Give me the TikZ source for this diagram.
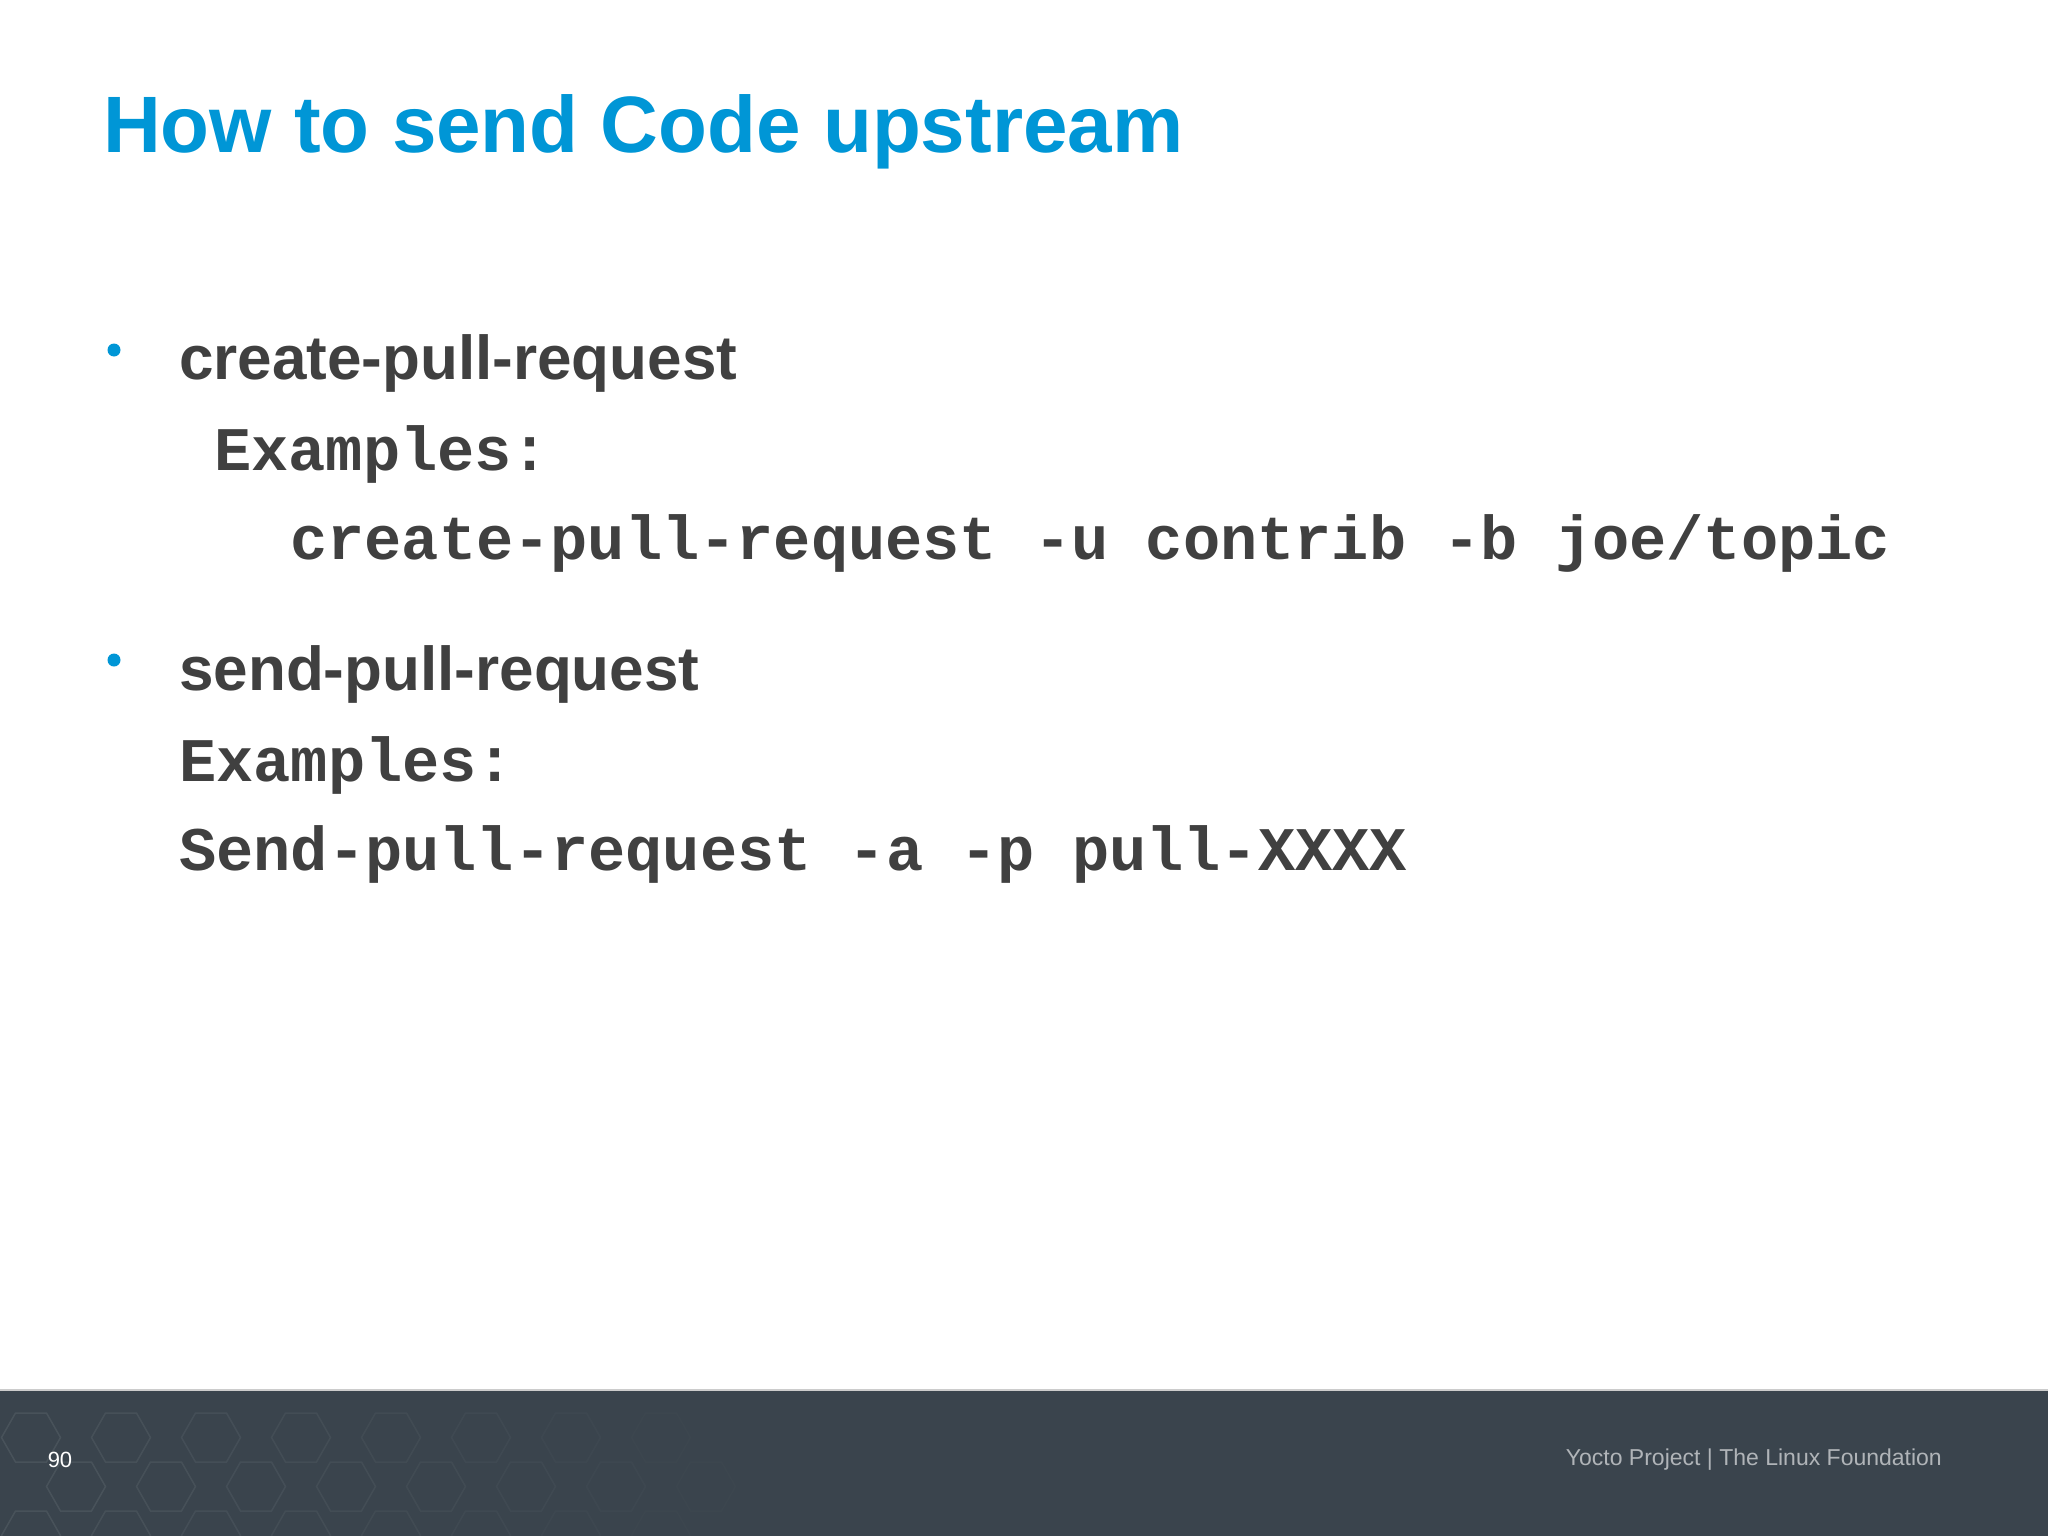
\documentclass[tikz,border=0pt]{standalone}
\usepackage{fontspec}
\setmainfont{Liberation Sans}
\newfontfamily\monob{Liberation Mono}
\definecolor{ttl}{HTML}{0096D6}
\definecolor{txt}{HTML}{404040}
\definecolor{foot}{HTML}{3A444D}
\definecolor{hexl}{HTML}{4A545C}
\begin{document}
\begin{tikzpicture}[x=1pt,y=-1pt,
  lbl/.style={anchor=base west,inner sep=0pt},
  head/.style={lbl,font=\fontsize{62}{62}\selectfont\bfseries,text=txt},
  code/.style={lbl,font=\fontsize{62}{62}\monob\bfseries,text=txt},
  bul/.style={circle,fill=ttl,inner sep=0pt,minimum size=13pt}]
\useasboundingbox (0,0) rectangle (2048,1536);
\fill[white] (0,0) rectangle (2048,1536);
\fill[foot] (0,1390) rectangle (2048,1536);
\draw[white!80!black,line width=1.5pt] (0,1390) -- (2048,1390);
\begin{scope}
\clip (0,1392) rectangle (2048,1536);
\foreach \i in {0,...,7}{
  \pgfmathsetmacro{\op}{max(0,0.9-\i*0.11)}
  \foreach \r in {0,1,2}{
    \foreach \o in {0,1}{
      \pgfmathsetmacro{\cx}{\i*90+\o*45+31}
      \pgfmathsetmacro{\cy}{1413+\r*98+\o*49+24.5}
      \draw[hexl,line width=1.5pt,opacity=\op]
        (\cx-15.5,\cy-24.5) -- (\cx+15.5,\cy-24.5) -- (\cx+29.5,\cy) -- (\cx+15.5,\cy+24.5) -- (\cx-15.5,\cy+24.5) -- (\cx-29.5,\cy) -- cycle;
    }
  }
}
\end{scope}
\node[lbl,font=\fontsize{80}{80}\selectfont\bfseries,text=ttl] (title) at (103,153) {How to send Code upstream};
\node[bul] (b1) at (114,350) {};
\node[head] (h1) at (179,379) {create-pull-request};
\node[code] (e1) at (214,470) {Examples:};
\node[code] (c1) at (290,559) {create-pull-request -u contrib -b joe/topic};
\node[bul] (b2) at (114,660) {};
\node[head] (h2) at (179,690) {send-pull-request};
\node[code] (e2) at (179,781) {Examples:};
\node[code] (c2) at (179,870) {Send-pull-request -a -p pull-XXXX};
\node[anchor=center,inner sep=0pt,font=\fontsize{22}{22}\selectfont,text=white] (pg) at (60,1460) {90};
\node[anchor=east,inner sep=0pt,font=\fontsize{23}{23}\selectfont,text=white!60!foot] (ft) at (1942,1460) {Yocto Project | The Linux Foundation};
\end{tikzpicture}
\end{document}
